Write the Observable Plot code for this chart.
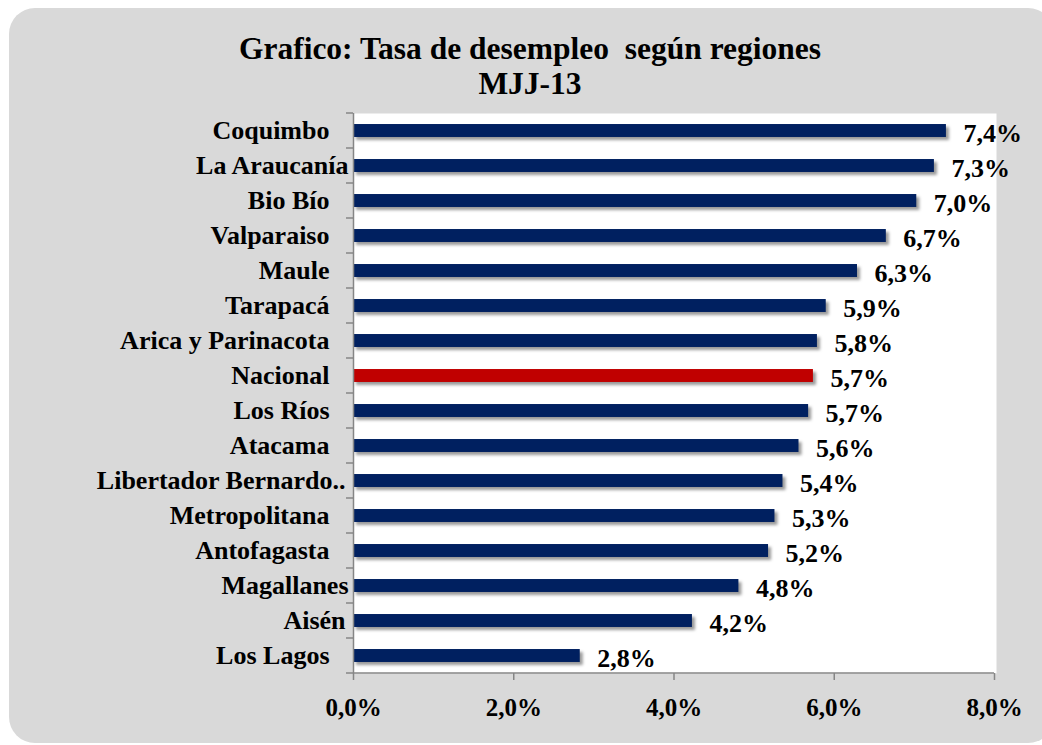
<!DOCTYPE html>
<html><head><meta charset="utf-8">
<script src="https://cdn.jsdelivr.net/npm/d3@7"></script>
<script src="https://cdn.jsdelivr.net/npm/@observablehq/plot@0.6"></script>
<style>
body{margin:0;background:#fff;}
#wrap{position:relative;width:1042px;height:745px;overflow:hidden;font-family:"Liberation Serif","Times New Roman",serif;}
#bg{position:absolute;left:9px;top:8px;width:1045px;height:735px;background:#d9d9d9;border-radius:26px;}
#title{position:absolute;left:180px;top:31px;width:700px;text-align:center;font-weight:bold;font-size:31.5px;white-space:pre;color:#000;line-height:35px;}
#chart{position:absolute;left:0;top:0;}
</style></head><body>
<div id="wrap"><div id="bg"></div>
<div id="title">Grafico: Tasa de desempleo  según regiones<br>MJJ-13</div>
<div id="chart"></div></div>
<script>
const regions = ["Coquimbo","La Araucanía","Bio Bío","Valparaiso","Maule","Tarapacá","Arica y Parinacota","Nacional","Los Ríos","Atacama","Libertador Bernardo..","Metropolitana","Antofagasta","Magallanes","Aisén","Los Lagos"];
const values = [7.40,7.25,7.03,6.65,6.29,5.90,5.79,5.74,5.68,5.56,5.36,5.26,5.18,4.81,4.23,2.83];
const valueLabels = ["7,4%","7,3%","7,0%","6,7%","6,3%","5,9%","5,8%","5,7%","5,7%","5,6%","5,4%","5,3%","5,2%","4,8%","4,2%","2,8%"];
const xTicks = [0,2,4,6,8];
const highlight = "Nacional";

const data = regions.map((r,i)=>({region:r, value:values[i], label:valueLabels[i]}));
const navy = "#002060", red = "#c00000", axisGray = "#868686";
const font = "'Liberation Serif','Times New Roman',serif";

// label groups that Excel drew slightly further right
const nearLabels = ["La Araucanía","Magallanes"];
const midLabels = ["Aisén","Libertador Bernardo.."];
const mainLabels = regions.filter(r => !nearLabels.includes(r) && !midLabels.includes(r));
const yAxisStyle = {tickSize:0, fontSize:26, fontWeight:"bold", fill:"#000", label:null};

const plot = Plot.plot({
  width:1042, height:745,
  marginLeft:353, marginRight:48, marginTop:113, marginBottom:72,
  style:{background:"transparent", fontFamily:font, fontWeight:"bold", fontSize:"26px", color:"#000", overflow:"visible"},
  x:{domain:[0,8], label:null},
  y:{domain:regions, paddingInner:0.63, paddingOuter:0.315, round:false, label:null},
  color:{type:"identity"},
  marks:[
    Plot.frame({fill:"white", stroke:null, insetRight:-2}),
    Plot.barX(data,{x:"value", y:"region", fill:"#000", fillOpacity:0.4, dx:3, dy:3}),
    Plot.barX(data,{x:"value", y:"region", fill:d=>d.region===highlight?red:navy}),
    Plot.text(data,{x:"value", y:"region", text:"label", textAnchor:"start", dx:17, dy:3, fontSize:26, fontWeight:"bold", fill:"#000"}),
    Plot.ruleX([0],{stroke:axisGray, strokeWidth:1.5}),
    Plot.axisX({ticks:xTicks, tickFormat:d=>d.toFixed(1).replace(".",",")+"%", tickSize:7, tickPadding:18, stroke:axisGray, strokeWidth:1.5, fill:"#000", fontSize:25, fontWeight:"bold", label:null}),
    Plot.axisY(mainLabels, {...yAxisStyle, tickPadding:24}),
    Plot.axisY(nearLabels, {...yAxisStyle, tickPadding:5}),
    Plot.axisY(midLabels, {...yAxisStyle, tickPadding:8})
  ]
});
document.getElementById("chart").appendChild(plot);

// shadow blur
const bars = plot.querySelectorAll('g[aria-label="bar"]');
if (bars.length) bars[0].style.filter = "blur(1.5px)";

// axis lines and band-boundary ticks from the scales
const xs = plot.scale("x"), ys = plot.scale("y");
const svg = d3.select(plot);
const x0 = xs.range[0], x1 = xs.range[1];
const y1 = ys.range[1];
const g = svg.append("g").attr("stroke", axisGray).attr("stroke-width", 1.5);
g.append("line").attr("x1", x0).attr("x2", x1).attr("y1", y1).attr("y2", y1);
regions.forEach(r => {
  const yb = ys.apply(r) - (ys.step - ys.bandwidth)/2;
  g.append("line").attr("x1", x0 - 7).attr("x2", x0).attr("y1", yb).attr("y2", yb);
});
g.append("line").attr("x1", x0 - 7).attr("x2", x0).attr("y1", y1).attr("y2", y1);
</script>
</body></html>
